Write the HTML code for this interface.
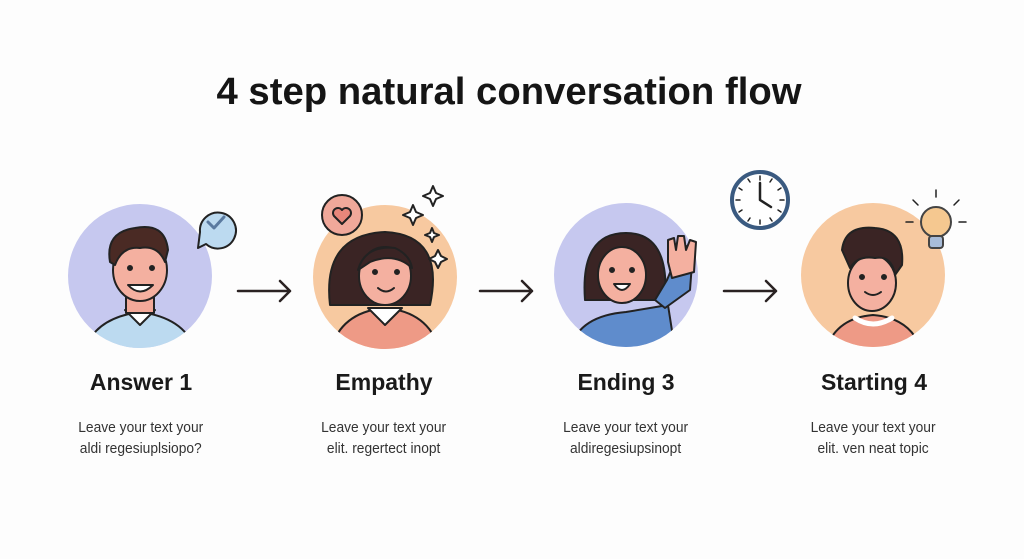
<!DOCTYPE html>
<html><head><meta charset="utf-8"><style>
html,body{margin:0;padding:0;background:#fdfdfd;}
svg{display:block}
</style></head><body>
<svg width="1024" height="559" viewBox="0 0 1024 559" xmlns="http://www.w3.org/2000/svg">
<rect width="1024" height="559" fill="#fdfdfd"/>
<text x="509" y="104" text-anchor="middle" font-family="Liberation Sans, sans-serif" font-weight="bold" font-size="38" fill="#151515" textLength="585" lengthAdjust="spacingAndGlyphs">4 step natural conversation flow</text>

<defs>
<clipPath id="c1"><circle cx="140" cy="276" r="72"/></clipPath>
<clipPath id="c2"><circle cx="385" cy="277" r="72"/></clipPath>
<clipPath id="c3"><circle cx="626" cy="275" r="72"/></clipPath>
<clipPath id="c4"><circle cx="873" cy="275" r="72"/></clipPath>
</defs>
<g stroke="#222" stroke-width="2" stroke-linejoin="round" stroke-linecap="round">
<!-- 1 -->
<circle cx="140" cy="276" r="72" fill="#c6c8ef" stroke="none"/>
<g clip-path="url(#c1)">
<path d="M85 350 Q95 318 140 312 Q185 318 195 350Z" fill="#bcdaf0"/>
<path d="M125 310 L140 325 L155 310Z" fill="#fff"/>
<rect x="126" y="285" width="28" height="28" fill="#f2a999"/>
<ellipse cx="140" cy="270" rx="27" ry="31" fill="#f4b0a0"/>
<path d="M110 262 Q105 232 135 228 Q165 222 168 250 L165 262 Q158 245 140 248 Q122 246 115 265Z" fill="#4a2a24"/>
<path d="M128 285 Q140 298 153 285Z" fill="#fff"/>
<circle cx="130" cy="268" r="2" fill="#222"/><circle cx="152" cy="268" r="2" fill="#222"/>
</g>
<path d="M200 232 a18 18 0 1 1 6 12 L198 248Z" fill="#bcdaf0"/>
<path d="M208 222 l6 6 l10 -11" fill="none" stroke="#5a7aa0" stroke-width="3"/>
<!-- 2 -->
<circle cx="385" cy="277" r="72" fill="#f7c9a0" stroke="none"/>
<g clip-path="url(#c2)">
<path d="M330 305 Q322 235 385 232 Q445 235 430 305Z" fill="#3a2424"/>
<path d="M330 352 Q340 312 385 308 Q430 312 440 352Z" fill="#ee9a86"/>
<path d="M368 308 L385 325 L402 308Z" fill="#fff"/>
<ellipse cx="385" cy="276" rx="26" ry="29" fill="#f4b0a0"/>
<path d="M358 270 Q365 245 395 248 Q410 255 412 268 Q395 252 370 262Z" fill="#3a2424"/>
<circle cx="375" cy="272" r="2" fill="#222"/><circle cx="397" cy="272" r="2" fill="#222"/>
<path d="M378 288 Q386 295 394 288" fill="none"/>
</g>
<circle cx="342" cy="215" r="20" fill="#f0a89a"/>
<path d="M342 224 l-8 -8 a4 4 0 0 1 8 -6 a4 4 0 0 1 8 6Z" fill="#e8867a"/>
<path d="M433 186 l3 7 7 3 -7 3 -3 7 -3 -7 -7 -3 7 -3Z M413 205 l3 7 7 3 -7 3 -3 7 -3 -7 -7 -3 7 -3Z M432 228 l2 5 5 2 -5 2 -2 5 -2 -5 -5 -2 5 -2Z M438 250 l3 6 6 3 -6 3 -3 6 -3 -6 -6 -3 6 -3Z" fill="#fff"/>
<!-- 3 -->
<circle cx="626" cy="275" r="72" fill="#c6c8ef" stroke="none"/>
<g clip-path="url(#c3)">
<path d="M585 300 Q580 233 626 233 Q670 233 665 300Z" fill="#3a2424"/>
<path d="M570 350 Q578 316 626 312 L668 305 L675 350Z" fill="#5f8ccc"/>
<ellipse cx="622" cy="275" rx="24" ry="28" fill="#f4b0a0"/>
<circle cx="612" cy="270" r="2" fill="#222"/><circle cx="632" cy="270" r="2" fill="#222"/>
<path d="M614 284 Q622 296 630 284Z" fill="#fff"/>
</g>
<path d="M665 308 L690 290 L693 250 L686 246 L682 275 L672 268 L667 280 L655 300Z" fill="#5f8ccc"/>
<path d="M668 262 L668 240 L674 238 L676 250 L678 236 L684 236 L686 250 L690 240 L696 242 L694 272 L672 278Z" fill="#f4b0a0"/>
<circle cx="760" cy="200" r="28" fill="#fff" stroke="#3a5a80" stroke-width="4"/>
<path d="M760 176 v4 M760 220 v4 M736 200 h4 M780 200 h4 M772 179 l-2 3 M781 188 l-3 2 M781 212 l-3 -2 M772 221 l-2 -3 M748 221 l2 -3 M739 212 l3 -2 M739 188 l3 2 M748 179 l2 3" fill="none" stroke-width="1.5"/>
<path d="M760 183 V200 L771 207" fill="none" stroke-width="2.5"/>
<!-- 4 -->
<circle cx="873" cy="275" r="72" fill="#f7c9a0" stroke="none"/>
<g clip-path="url(#c4)">
<path d="M825 352 Q835 318 873 315 Q912 318 922 352Z" fill="#ee9a86"/>
<path d="M855 318 Q873 330 892 318" fill="none" stroke="#fff" stroke-width="5"/>
<ellipse cx="872" cy="283" rx="24" ry="28" fill="#f4b0a0"/>
<path d="M842 250 Q845 225 875 228 Q905 230 902 265 L895 275 Q892 255 875 258 Q858 255 850 268Z" fill="#3a2424"/>
<circle cx="862" cy="277" r="2" fill="#222"/><circle cx="884" cy="277" r="2" fill="#222"/>
<path d="M865 292 Q873 298 881 292" fill="none"/>
</g>
<circle cx="936" cy="222" r="15" fill="#f5c890" stroke="#444"/>
<rect x="929" y="236" width="14" height="12" rx="3" fill="#a8bcd8" stroke="#444"/>
<path d="M936 197 v-7 M918 205 l-5 -5 M954 205 l5 -5 M913 222 h-7 M959 222 h7" fill="none" stroke-width="1.5"/>
<!-- arrows -->
<path d="M238 291 H290 M280 281 L290 291 L280 301" fill="none" stroke="#2a2222" stroke-width="2.5"/>
<path d="M480 291 H532 M522 281 L532 291 L522 301" fill="none" stroke="#2a2222" stroke-width="2.5"/>
<path d="M724 291 H776 M766 281 L776 291 L766 301" fill="none" stroke="#2a2222" stroke-width="2.5"/>
</g>
<g font-family="Liberation Sans, sans-serif" fill="#1a1a1a" text-anchor="middle">
<text x="141" y="390" font-size="23" font-weight="bold">Answer 1</text>
<text x="384" y="390" font-size="23" font-weight="bold">Empathy</text>
<text x="626" y="390" font-size="23" font-weight="bold">Ending 3</text>
<text x="874" y="390" font-size="23" font-weight="bold">Starting 4</text>
</g>
<g font-family="Liberation Sans, sans-serif" fill="#333" text-anchor="middle" font-size="15" transform="scale(0.92,1)">
<text x="153" y="432">Leave your text your</text><text x="153" y="453">aldi regesiuplsiopo?</text>
<text x="417" y="432">Leave your text your</text><text x="417" y="453">elit. regertect inopt</text>
<text x="680" y="432">Leave your text your</text><text x="680" y="453">aldiregesiupsinopt</text>
<text x="949" y="432">Leave your text your</text><text x="949" y="453">elit. ven neat topic</text>
</g>
</svg>
</body></html>
